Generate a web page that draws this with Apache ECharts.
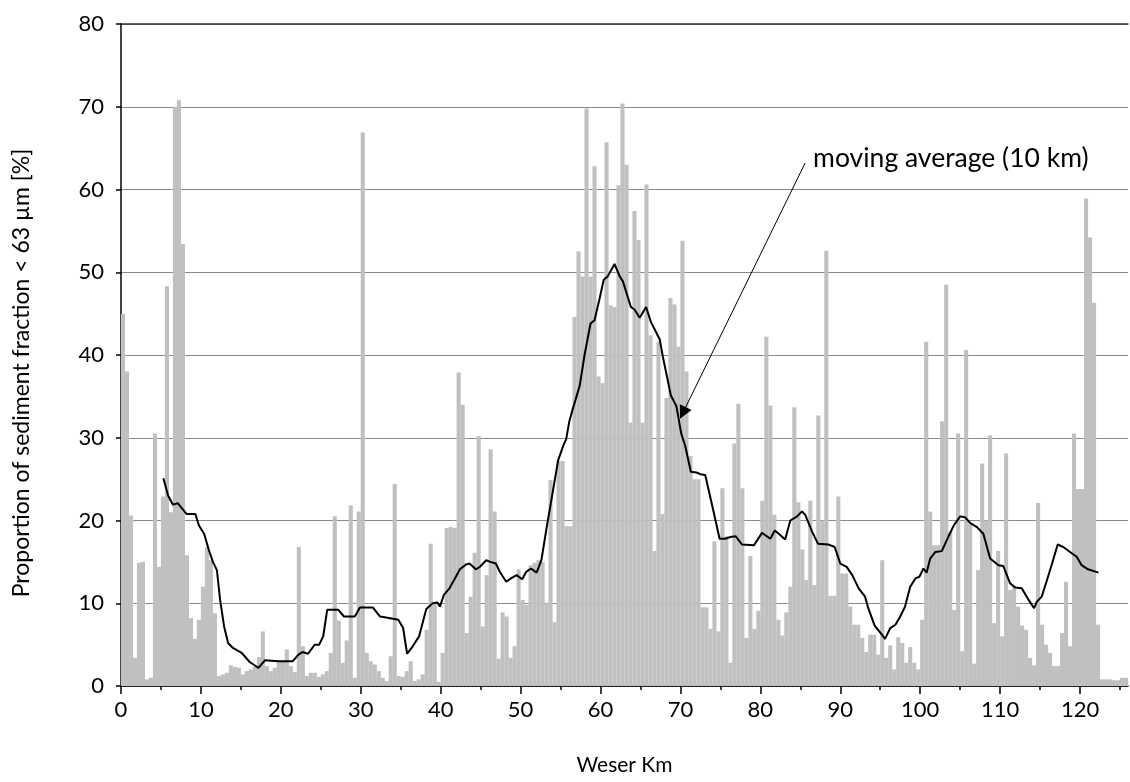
<!DOCTYPE html>
<html>
<head>
<meta charset="utf-8">
<script src="https://cdn.jsdelivr.net/npm/echarts@6/dist/echarts.min.js"></script>
<style>
  html, body { margin: 0; padding: 0; background: #fff; }
  #chart { width: 1130px; height: 782px; }
</style>
</head>
<body>
<div id="chart"></div>
<script>
// Samples are spaced every half kilometre along the river.
const STEP_KM = 0.5;

// Proportion of fines (< 63 µm, %) per sample, grouped by 10 km stretch.
const fines000 = [45.0, 38.0, 20.6, 3.4, 14.9, 15.0, 0.8, 1.0, 30.5, 14.4, 22.9, 48.3, 21.0, 70.0, 70.8, 53.4, 15.8, 8.2, 5.7, 8.0];
const fines010 = [12.0, 16.8, 15.2, 8.8, 1.2, 1.4, 1.6, 2.5, 2.3, 2.2, 1.4, 1.8, 2.0, 2.3, 3.5, 6.6, 2.4, 1.8, 2.2, 2.9];
const fines020 = [2.9, 4.4, 2.4, 1.7, 16.8, 4.8, 1.2, 1.6, 1.6, 1.1, 1.4, 1.8, 4.0, 20.5, 7.9, 2.8, 5.5, 21.8, 1.0, 21.1];
const fines030 = [66.9, 4.0, 3.0, 2.6, 1.8, 1.0, 0.6, 3.6, 24.4, 1.2, 1.1, 1.8, 3.0, 0.6, 0.8, 1.4, 6.8, 17.2, 10.0, 0.5];
const fines040 = [4.0, 19.1, 19.2, 19.1, 37.9, 34.0, 6.4, 10.8, 16.1, 30.2, 7.2, 13.4, 28.6, 21.1, 3.3, 8.9, 8.4, 3.4, 4.8, 14.1];
const fines050 = [10.4, 9.8, 14.6, 14.9, 15.2, 15.0, 10.0, 24.9, 7.7, 27.2, 27.2, 19.3, 19.3, 44.6, 52.5, 49.5, 69.8, 49.5, 62.8, 37.4];
const fines060 = [36.6, 65.7, 46.0, 45.8, 60.5, 70.4, 63.0, 31.8, 57.4, 53.9, 31.8, 60.6, 42.4, 16.3, 41.6, 20.8, 34.8, 46.9, 46.1, 41.0];
const fines070 = [53.8, 38.0, 27.8, 25.0, 25.0, 9.5, 9.5, 6.9, 17.5, 6.6, 23.9, 18.1, 2.8, 29.3, 34.1, 23.9, 5.8, 15.7, 6.9, 9.1];
const fines080 = [22.4, 42.2, 33.9, 20.7, 8.0, 6.1, 8.9, 12.0, 33.7, 22.2, 16.5, 12.8, 22.4, 12.2, 32.7, 20.0, 52.6, 10.9, 10.9, 22.9];
const fines090 = [13.6, 13.6, 9.6, 7.4, 7.4, 5.8, 4.1, 6.2, 6.2, 3.8, 15.2, 3.4, 4.9, 2.0, 5.9, 5.2, 2.8, 4.7, 2.8, 2.0];
const fines100 = [8.0, 41.6, 21.1, 17.0, 17.0, 32.0, 48.5, 18.6, 9.2, 30.5, 4.2, 40.6, 19.6, 2.7, 14.0, 26.9, 20.0, 30.3, 7.6, 16.3];
const fines110 = [6.0, 28.1, 11.6, 12.0, 9.6, 7.3, 6.8, 3.4, 2.5, 22.1, 7.4, 5.0, 4.0, 2.4, 2.4, 6.4, 12.6, 4.8, 30.5, 23.8];
const fines120 = [23.8, 58.9, 54.2, 46.3, 7.4, 0.8, 0.8, 0.8, 0.7, 0.7, 1.0, 1.0];

// 10 km moving average of the fines proportion.
const avgKm = [5.3, 5.9, 6.5, 7.1, 7.6, 8.2, 9.3, 9.75, 10.4, 11.0, 11.5, 12.0, 12.4, 12.9, 13.4, 14.0, 15.1, 16.1, 17.2, 18.0,
  19.7, 21.5, 22.2, 22.7, 23.4, 24.25, 24.8, 25.3, 25.8, 27.2, 27.9, 29.25, 29.9, 31.5, 32.4, 33.0, 34.7, 35.3, 35.8, 36.5,
  37.3, 38.2, 39.0, 39.6, 39.9, 40.4, 41.1, 41.9, 42.4, 43.2, 43.6, 44.4, 44.9, 45.7, 46.2, 46.9, 47.4, 48.2, 48.8, 49.5,
  50.2, 50.7, 51.3, 52.0, 52.6, 53.2, 53.8, 54.7, 55.4, 55.7, 56.1, 56.5, 57.4, 58.0, 58.75, 59.25, 59.9, 60.4, 60.9, 61.75,
  62.4, 62.8, 63.8, 64.25, 64.9, 65.7, 66.3, 67.4, 67.8, 68.8, 69.5, 70.1, 70.6, 71.3, 72.0, 72.5, 73.1, 74.0, 74.9, 75.6,
  76.25, 76.9, 77.7, 79.2, 80.2, 81.25, 81.8, 82.3, 83.1, 83.75, 84.6, 85.2, 85.6, 86.5, 87.2, 88.5, 89.3, 90.0, 90.8, 91.5,
  92.3, 93.1, 93.5, 94.3, 95.2, 95.6, 96.25, 96.9, 97.5, 98.1, 98.75, 99.4, 99.9, 100.4, 100.8, 101.25, 101.9, 102.7, 103.5, 104.2,
  105.0, 105.6, 106.25, 107.1, 107.9, 108.75, 109.8, 110.4, 111.25, 111.9, 112.7, 113.5, 114.25, 114.6, 115.2, 115.8, 116.5, 117.2, 117.9, 118.75,
  119.6, 120.2, 121.0, 122.3];
const avgPct = [25.1, 23.0, 21.9, 22.1, 21.5, 20.8, 20.8, 19.4, 18.4, 16.4, 15.0, 14.0, 10.4, 7.2, 5.2, 4.6, 4.0, 2.9, 2.2, 3.1,
  3.0, 3.0, 3.8, 4.1, 3.9, 5.0, 5.0, 6.0, 9.2, 9.2, 8.4, 8.4, 9.5, 9.5, 8.4, 8.3, 8.0, 7.0, 3.9, 4.8,
  6.0, 9.3, 10.0, 10.1, 9.6, 11.0, 11.8, 13.2, 14.1, 14.7, 14.8, 14.1, 14.4, 15.2, 15.0, 14.8, 13.8, 12.6, 13.0, 13.4,
  12.9, 13.8, 14.2, 13.7, 15.2, 18.8, 22.2, 27.3, 29.2, 29.8, 32.0, 33.4, 36.3, 40.0, 43.8, 44.2, 46.9, 49.1, 49.5, 51.0,
  49.5, 48.9, 45.8, 45.5, 44.5, 45.8, 44.0, 41.9, 39.8, 35.1, 33.8, 30.5, 29.0, 25.9, 25.8, 25.6, 25.5, 21.7, 17.8, 17.8,
  18.0, 18.1, 17.1, 17.0, 18.5, 17.8, 18.8, 18.4, 17.7, 20.0, 20.5, 21.1, 20.7, 18.6, 17.2, 17.1, 16.8, 14.8, 14.4, 13.4,
  11.8, 10.8, 9.4, 7.3, 6.2, 5.7, 7.0, 7.4, 8.4, 9.6, 12.0, 13.0, 13.2, 14.2, 13.7, 15.4, 16.2, 16.3, 18.0, 19.4,
  20.5, 20.4, 19.7, 19.2, 18.4, 15.4, 14.6, 14.5, 12.4, 11.9, 11.8, 10.5, 9.4, 10.2, 10.8, 12.6, 14.8, 17.1, 16.8, 16.2,
  15.6, 14.6, 14.1, 13.7];

// Axis ticks.
const kmMajorTicks = [0, 10, 20, 30, 40, 50, 60, 70, 80, 90, 100, 110, 120];
const kmMinorTicks = [5, 15, 25, 35, 45, 55, 65, 75, 85, 95, 105, 115, 125];
const pctTicks = [0, 10, 20, 30, 40, 50, 60, 70, 80];

// Annotation: label text and the arrow from the label to the curve.
const avgLabelText = 'moving average (10 km)';
const avgArrowFrom = [85.6, 63.2];
const avgArrowTo = [70.3, 33.0];

const stretches = [fines000, fines010, fines020, fines030, fines040, fines050, fines060,
  fines070, fines080, fines090, fines100, fines110, fines120];
const barData = [];
stretches.forEach((vals, s) => {
  vals.forEach((v, i) => barData.push([s * 10 + (i + 0.5) * STEP_KM, v]));
});
const avgData = avgKm.map((k, i) => [k, avgPct[i]]);

const FONT = 'Lato, "DejaVu Sans", sans-serif';
const KM_MAX = 126;

const chart = echarts.init(document.getElementById('chart'), null, { renderer: 'canvas' });

const gridBox = { left: 121, right: 2, top: 24, bottom: 96 };

chart.setOption({
  animation: false,
  backgroundColor: '#ffffff',
  textStyle: { fontFamily: FONT },
  grid: [
    Object.assign({ containLabel: false }, gridBox),
    Object.assign({ containLabel: false }, gridBox)
  ],
  xAxis: [
    {
      type: 'value', gridIndex: 0, position: 'bottom', min: 0, max: KM_MAX,
      axisLine: { show: true, onZero: false, lineStyle: { color: '#000', width: 1.5 } },
      axisTick: { show: true, length: 8, customValues: kmMajorTicks, lineStyle: { color: '#000', width: 1.5 } },
      axisLabel: { show: true, customValues: kmMajorTicks, fontSize: 22, color: '#000', margin: 13, fontFamily: FONT },
      splitLine: { show: false },
      name: 'Weser Km', nameLocation: 'middle', nameGap: 69,
      nameTextStyle: { fontSize: 21, color: '#000', fontFamily: FONT }
    },
    {
      type: 'value', gridIndex: 0, position: 'top', min: 0, max: KM_MAX,
      axisLine: { show: true, onZero: false, lineStyle: { color: '#333', width: 1.5 } },
      axisTick: { show: false }, axisLabel: { show: false }, splitLine: { show: false }
    },
    {
      type: 'value', gridIndex: 1, position: 'bottom', min: 0, max: KM_MAX,
      axisLine: { show: false, onZero: false },
      axisTick: { show: true, length: 4, customValues: kmMinorTicks, lineStyle: { color: '#000', width: 1.5 } },
      axisLabel: { show: false }, splitLine: { show: false }
    }
  ],
  yAxis: [
    {
      type: 'value', gridIndex: 0, min: 0, max: 80, interval: 10,
      axisLine: { show: true, lineStyle: { color: '#000', width: 1.5 } },
      axisTick: { show: true, length: 5, lineStyle: { color: '#000', width: 1.5 } },
      axisLabel: { fontSize: 22, color: '#000', margin: 17, fontFamily: FONT, customValues: pctTicks },
      splitLine: { show: true, lineStyle: { color: '#8a8a8a', width: 1 } },
      name: 'Proportion of sediment fraction < 63 µm [%]', nameLocation: 'middle', nameGap: 88,
      nameTextStyle: { fontSize: 23, color: '#000', fontFamily: FONT, padding: [0, 36, 0, 0] }
    },
    {
      type: 'value', gridIndex: 1, min: 0, max: 80, show: false
    }
  ],
  series: [
    {
      type: 'bar', xAxisIndex: 0, yAxisIndex: 0,
      data: barData,
      barWidth: 4.1,
      itemStyle: { color: '#c0c0c0' },
      emphasis: { disabled: true },
      silent: true
    },
    {
      type: 'line', xAxisIndex: 0, yAxisIndex: 0,
      data: avgData,
      showSymbol: false, symbol: 'none',
      lineStyle: { color: '#000', width: 2 },
      emphasis: { disabled: true },
      silent: true,
      z: 5,
      markLine: {
        silent: true,
        animation: false,
        symbol: ['none', 'triangle'],
        symbolSize: 13,
        label: { show: false },
        lineStyle: { color: '#000', width: 1, type: 'solid' },
        itemStyle: { color: '#000' },
        emphasis: { disabled: true },
        data: [[{ coord: avgArrowFrom }, { coord: avgArrowTo }]]
      }
    }
  ]
});

// Place the annotation text just right of the arrow's upper end.
const anchor = chart.convertToPixel({ xAxisIndex: 0, yAxisIndex: 0 }, avgArrowFrom);
chart.setOption({
  graphic: [{
    type: 'text',
    x: anchor[0] + 8,
    y: anchor[1] + 9,
    style: {
      text: avgLabelText,
      font: '26.5px ' + FONT,
      fill: '#000',
      textVerticalAlign: 'bottom'
    },
    silent: true
  }]
});
</script>
</body>
</html>
